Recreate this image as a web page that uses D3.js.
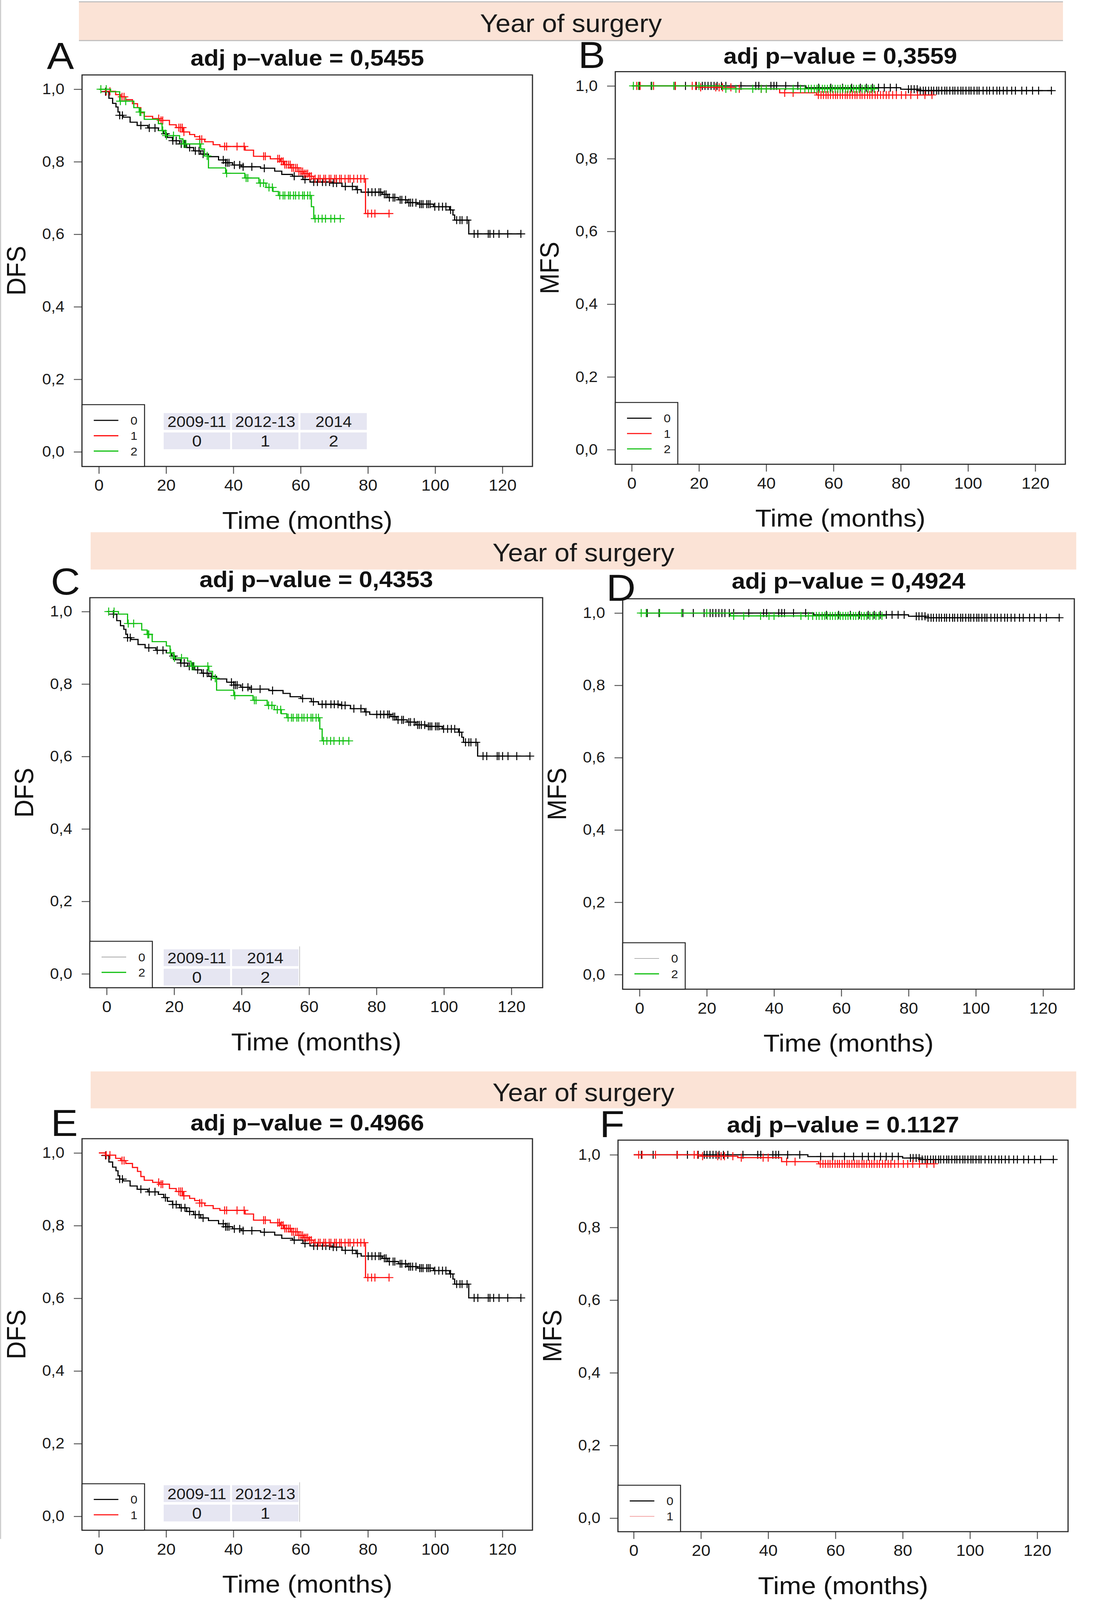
<!DOCTYPE html>
<html>
<head>
<meta charset="utf-8">
<script src="https://cdn.jsdelivr.net/npm/d3@7"></script>
<style>
  html, body { margin: 0; padding: 0; background: #fff; overflow: hidden; }
  svg { display: block; width: 100vw; height: 100vh; font-family: "Liberation Sans", Arial, Helvetica, sans-serif; }
</style>
</head>
<body>
<svg id="chart"></svg>
<script>
/*
    KAPLAN-MEIER PANELS (year of surgery)
*/

// ---- data ----
const stripLabel = "Year of surgery"
const panelLetters = ["A", "B", "C", "D", "E", "F"]
const pValueTitles = ["adj p\u2013value = 0,5455", "adj p\u2013value = 0,3559",
    "adj p\u2013value = 0,4353", "adj p\u2013value = 0,4924",
    "adj p\u2013value = 0.4966", "adj p\u2013value = 0.1127"]
const endpointLabels = ["DFS", "MFS", "DFS", "MFS", "DFS", "MFS"]
const xAxisLabel = "Time (months)"
const groupCodes = ["0", "1", "2"]
const periodLabels = ["2009-11", "2012-13", "2014"]
const xTicks = [0, 20, 40, 60, 80, 100, 120]
const yTicks = [0, 0.2, 0.4, 0.6, 0.8, 1.0]

// DFS, group 0 (2009-11)
const dfs0Times = [0, 2, 3, 4.1, 5.1, 5.7, 6.2, 7.2, 9.3, 11.4, 14.6, 17.7, 19.3, 20.4, 21.9, 24, 26.1, 28.2, 30.3, 32.6,
    35.6, 37.7, 39.8, 42.4, 48.1, 52.3, 54.4, 57.6, 60.7, 62.8, 69.1, 72.3, 76.5, 78, 84.3, 85.9, 89.1, 91.7, 94.8, 99.5,
    104.3, 105.3, 105.8, 110]
const dfs0Surv = [1, 0.993, 0.975, 0.961, 0.951, 0.937, 0.928, 0.923, 0.909, 0.900, 0.893, 0.886, 0.877, 0.867, 0.858, 0.849, 0.839, 0.830, 0.821, 0.814,
    0.805, 0.797, 0.791, 0.786, 0.782, 0.774, 0.765, 0.760, 0.751, 0.744, 0.741, 0.732, 0.723, 0.716, 0.710, 0.701, 0.695, 0.687, 0.683, 0.676,
    0.667, 0.653, 0.639, 0.601]
const dfs0Censored = [2, 6.2, 7, 12.5, 15, 16.7, 19.8, 22, 23, 24.5, 25.6, 27, 28.7, 29.8, 31, 37, 37.7, 38.2, 38.7, 40.3,
    41.9, 42.9, 45.5, 49.2, 58.1, 61.3, 63.9, 65, 66.5, 67.5, 68.6, 69.7, 70.7, 73.3, 75.4, 76.9, 80.1, 81.2, 82.2, 83.3,
    83.8, 84.9, 85.4, 86.4, 87.5, 88, 89.6, 90.1, 91.2, 92.2, 92.7, 93.3, 94.3, 95.4, 95.9, 96.4, 97.5, 98, 98.5, 99.9,
    101.1, 102.2, 103.2, 104.6, 106.4, 107.4, 108, 109.5, 111.6, 112.7, 115.8, 116.3, 117.4, 119, 121.6, 125.5]

// DFS, group 1 (2012-13)
const dfs1Times = [0, 2, 5, 6.5, 8, 10, 11.5, 12.5, 13.5, 16, 18, 21, 23, 25, 27, 28.5, 30, 31.5, 34, 36,
    43.5, 46, 51, 54, 55, 57, 59.5, 61, 62.5, 63.8, 79.3]
const dfs1Surv = [1, 0.994, 0.985, 0.979, 0.971, 0.960, 0.949, 0.935, 0.925, 0.919, 0.914, 0.902, 0.894, 0.882, 0.875, 0.869, 0.862, 0.855, 0.847, 0.842,
    0.832, 0.815, 0.808, 0.801, 0.792, 0.783, 0.773, 0.767, 0.760, 0.753, 0.657]
const dfs1Censored = [2.2, 3.3, 6.9, 7.5, 17.8, 18.5, 19, 23.8, 24.3, 24.8, 25.3, 30, 30.6, 37.4, 38, 41.1, 43.2, 49, 49.5, 53.2,
    53.7, 54.3, 54.8, 55.3, 55.8, 56.4, 56.9, 57.4, 57.9, 58.5, 59, 59.5, 60.1, 60.6, 61.1, 61.6, 62.1, 62.7, 63.2, 64.3,
    65.3, 65.8, 66.9, 67.4, 68.5, 69, 70.1, 70.6, 71.6, 72.1, 73.2, 74.2, 74.7, 75.8, 76.9, 77.9, 78.9, 80, 81.1, 82.1, 86.3]

// DFS, group 2 (2014)
const dfs2Times = [0, 3.5, 6.2, 10.4, 12, 13.5, 17.7, 18.8, 19.8, 24, 25, 30.3, 31.4, 32.6, 37.7, 43.4, 47.6, 49.7, 51.8, 53.4, 63.2, 63.9]
const dfs2Surv = [1, 0.993, 0.967, 0.949, 0.937, 0.917, 0.905, 0.886, 0.872, 0.863, 0.849, 0.835, 0.816, 0.783, 0.768, 0.755, 0.741, 0.729, 0.718, 0.707, 0.676, 0.643]
const dfs2Censored = [0.6, 2.2, 6.4, 8, 12.2, 12.5, 19, 20.1, 22.2, 25.3, 25.9, 30, 32.2, 38, 43.8, 44.3, 48, 49, 50.6, 51.6,
    53.8, 54.8, 55.3, 56.4, 56.9, 57.9, 58.5, 59.5, 60.6, 61.1, 62.1, 62.8, 64.3, 65.3, 66.4, 67.4, 69, 70.1, 71.8]

// MFS, group 0
const mfs0Times = [0, 51.8, 80, 85]
const mfs0Surv = [1, 0.995, 0.991, 0.987]
const mfs0Censored = [2.3, 5.8, 12.9, 16, 19.2, 21, 21.8, 22.7, 23.6, 24.5, 25.4, 26.7, 28, 32.5, 36.9, 37.8, 41.4, 42.3, 43.1, 45.8,
    49.4, 55.6, 59.2, 62.7, 65.4, 68, 69.8, 71.6, 73.4, 75.1, 76.9, 78.7, 82.3, 83.1, 84, 84.9, 85.8, 86.7, 87.4, 88.3,
    89.1, 89.8, 90.7, 91.3, 92.2, 93.1, 93.7, 94.6, 95.5, 96.1, 97, 97.9, 98.5, 99.4, 100.3, 100.9, 101.8, 102.7, 103.3, 104.5,
    105.6, 106.4, 107.5, 108.6, 109.4, 110.5, 111.6, 113, 114.1, 116, 117.4, 119.2, 121, 124.8]

// MFS, group 1
const mfs1Times = [0, 20, 31, 44, 55]
const mfs1Surv = [1, 0.996, 0.992, 0.981, 0.975]
const mfs1Censored = [1.5, 2.5, 6.5, 13, 18, 19, 20.5, 25, 26, 27, 29.5, 32, 38.5, 40, 45.5, 48, 55.5, 56.3, 57, 57.8,
    58.4, 59.1, 59.9, 60.6, 61.2, 62, 62.7, 63.5, 64.1, 64.9, 65.6, 66.4, 67, 67.9, 68.5, 69.3, 70.1, 70.8, 71.5, 72.4,
    73.1, 74, 74.8, 75.7, 76.5, 77.6, 78.7, 80.2, 81.5, 83, 85, 87.2, 89.3]

// MFS, group 2
const mfs2Times = [0, 27]
const mfs2Surv = [1, 0.992]
const mfs2Censored = [0.5, 2, 6, 12.5, 20, 28, 31, 36, 38.5, 40, 48, 50.2, 51.5, 52.6, 53.4, 54.3, 55.1, 55.8, 56.7, 57.4,
    58.2, 59, 59.7, 60.5, 61.3, 62, 62.8, 63.6, 64.3, 65.1, 66, 66.8, 67.6, 68.5, 69.4, 70.3, 71.2, 72.1]

// ---- curves table built from the arrays ----
const curves = {
    dfs: [
        { times: dfs0Times, surv: dfs0Surv, cens: dfs0Censored },
        { times: dfs1Times, surv: dfs1Surv, cens: dfs1Censored },
        { times: dfs2Times, surv: dfs2Surv, cens: dfs2Censored }
    ],
    mfs: [
        { times: mfs0Times, surv: mfs0Surv, cens: mfs0Censored },
        { times: mfs1Times, surv: mfs1Surv, cens: mfs1Censored },
        { times: mfs2Times, surv: mfs2Surv, cens: mfs2Censored }
    ]
}

// ---- styles / layout ----
const groupColors = ["#000000", "#ff1010", "#10c010"]
const width = 2826, height = 4377

const strips = [
    { x0: 202, x1: 2721, y0: 5, y1: 111, textY: 88, border: true },
    { x0: 232, x1: 2755, y0: 1456, y1: 1558, textY: 1536 },
    { x0: 232, x1: 2755, y0: 2931, y1: 3032, textY: 3012 }
]

const panels = [
    { kind: "dfs", groups: [0, 1, 2], box: [210, 205, 1363, 1276], x0: 253, x120: 1286, y1: 244, y0: 1236,
      letter: [120, 188], titleY: 180, table: { x: 419, y: 1130, edge: false } },
    { kind: "mfs", groups: [0, 1, 2], box: [1575, 196, 2727, 1270], x0: 1617, x120: 2650, y1: 235, y0: 1230,
      letter: [1480, 186], titleY: 174 },
    { kind: "dfs", groups: [0, 2], box: [230, 1635, 1389, 2702], x0: 273, x120: 1309, y1: 1673, y0: 2664,
      letter: [130, 1626], titleY: 1606, table: { x: 419, y: 2597, edge: true },
      legendStyle: { 0: { color: "#8a8a8a", width: 1.5 } } },
    { kind: "mfs", groups: [0, 2], box: [1594, 1638, 2750, 2706], x0: 1637, x120: 2670, y1: 1677, y0: 2666,
      letter: [1552, 1643], titleY: 1610,
      legendStyle: { 0: { color: "#8a8a8a", width: 1.5 } } },
    { kind: "dfs", groups: [0, 1], box: [210, 3115, 1363, 4186], x0: 253, x120: 1286, y1: 3154, y0: 4148,
      letter: [130, 3107], titleY: 3093, table: { x: 419, y: 4063, edge: true } },
    { kind: "mfs", groups: [0, 1], box: [1582, 3119, 2734, 4190], x0: 1622, x120: 2655, y1: 3159, y0: 4153,
      letter: [1535, 3111], titleY: 3098,
      legendStyle: { 1: { color: "#f08a8a", width: 1.5 } } }
]

// the svg keeps the 2826x4377 drawing space and is fitted to whatever viewport we get
const svg = d3.select("#chart")
    .attr("viewBox", `0 0 ${width} ${height}`)
    .attr("preserveAspectRatio", "none")

svg.append("rect").attr("width", width).attr("height", height).attr("fill", "#fff")

// faint frame line on the left edge of the original figure
svg.append("line")
    .attr("x1", 1.5).attr("x2", 1.5).attr("y1", 0).attr("y2", 4210)
    .attr("stroke", "#cfcfcf").attr("stroke-width", 3)

// header strips
strips.forEach(s => {
    svg.append("rect")
        .attr("x", s.x0).attr("y", s.y0)
        .attr("width", s.x1 - s.x0).attr("height", s.y1 - s.y0)
        .attr("fill", "#fbe3d6")
    if (s.border) {
        [s.y0, s.y1].forEach(yy => svg.append("line")
            .attr("x1", s.x0).attr("x2", s.x1).attr("y1", yy).attr("y2", yy)
            .attr("stroke", "#bdbdbd").attr("stroke-width", 3))
    }
    svg.append("text")
        .attr("x", (s.x0 + s.x1) / 2).attr("y", s.textY)
        .attr("text-anchor", "middle")
        .attr("font-size", 69)
        .attr("fill", "#1a1a1a")
        .text(stripLabel)
})

// value of the KM step function at time t
const survAt = (c, t) => {
    const i = d3.bisectRight(c.times, t) - 1
    return c.surv[Math.max(0, i)]
}

const commaFormat = d => d3.format(".1f")(d).replace(".", ",")

const drawPanel = (p, idx) => {
    const g = svg.append("g")
    const [bx0, by0, bx1, by1] = p.box
    const cx = (bx0 + bx1) / 2, cy = (by0 + by1) / 2

    const x = d3.scaleLinear().domain([0, 120]).range([p.x0, p.x120])
    const y = d3.scaleLinear().domain([0, 1]).range([p.y0, p.y1])

    // y axis
    g.append("g")
        .attr("transform", `translate(${bx0},0)`)
        .call(d3.axisLeft(y).tickValues(yTicks).tickFormat(commaFormat).tickSize(21).tickPadding(24))
        .call(a => a.select(".domain").remove())
        .call(a => a.selectAll(".tick line").attr("stroke", "#555").attr("stroke-width", 2.5))
        .call(a => a.selectAll(".tick text").attr("font-size", 41).attr("fill", "#1a1a1a")
            .attr("font-family", "'Liberation Sans', Arial, sans-serif"))

    // x axis
    g.append("g")
        .attr("transform", `translate(0,${by1})`)
        .call(d3.axisBottom(x).tickValues(xTicks).tickSize(20).tickPadding(16))
        .call(a => a.select(".domain").remove())
        .call(a => a.selectAll(".tick line").attr("stroke", "#555").attr("stroke-width", 2.5))
        .call(a => a.selectAll(".tick text").attr("font-size", 43).attr("fill", "#1a1a1a")
            .attr("font-family", "'Liberation Sans', Arial, sans-serif"))

    // curves, drawn group by group so later groups sit on top
    const line = d3.line().x(d => x(d[0])).y(d => y(d[1])).curve(d3.curveStepAfter)
    p.groups.forEach(gi => {
        const c = curves[p.kind][gi]
        const tEnd = d3.max(c.cens)
        const pts = c.times.map((t, i) => [t, c.surv[i]])
        pts.push([tEnd, c.surv[c.surv.length - 1]])
        g.append("path")
            .attr("d", line(pts))
            .attr("fill", "none")
            .attr("stroke", groupColors[gi])
            .attr("stroke-width", 3)

        g.append("g")
            .selectAll("path")
            .data(c.cens)
            .join("path")
            .attr("d", t => {
                const px = x(t), py = y(survAt(c, t))
                return `M${px - 11},${py}h22M${px},${py - 11}v22`
            })
            .attr("stroke", groupColors[gi])
            .attr("stroke-width", 2.5)
            .attr("fill", "none")
    })

    // plot frame
    g.append("rect")
        .attr("x", bx0).attr("y", by0)
        .attr("width", bx1 - bx0).attr("height", by1 - by0)
        .attr("fill", "none").attr("stroke", "#2a2a2a").attr("stroke-width", 3)

    // legend box (bottom left, inside the frame)
    const n = p.groups.length
    const lgTop = by1 - 42 * n - 43
    g.append("rect")
        .attr("x", bx0).attr("y", lgTop)
        .attr("width", 160).attr("height", by1 - lgTop)
        .attr("fill", "#fff").attr("stroke", "#222").attr("stroke-width", 2.5)
    p.groups.forEach((gi, i) => {
        const ly = by1 - 42 * (n - i)
        const st = (p.legendStyle && p.legendStyle[gi]) || { color: groupColors[gi], width: 3 }
        g.append("line")
            .attr("x1", bx0 + 30).attr("x2", bx0 + 93)
            .attr("y1", ly).attr("y2", ly)
            .attr("stroke", st.color).attr("stroke-width", st.width)
        g.append("text")
            .attr("x", bx0 + 133).attr("y", ly)
            .attr("dy", "0.36em")
            .attr("text-anchor", "middle")
            .attr("font-size", 32)
            .attr("fill", "#1a1a1a")
            .text(groupCodes[gi])
    })

    // small period/code table
    if (p.table) {
        const t = p.table
        p.groups.forEach((gi, i) => {
            const tx = t.x + i * 175
            ;[periodLabels[gi], groupCodes[gi]].forEach((lab, r) => {
                const ty = t.y + r * 53
                g.append("rect")
                    .attr("x", tx).attr("y", ty)
                    .attr("width", 170).attr("height", 46)
                    .attr("fill", "#e6e6f2")
                g.append("text")
                    .attr("x", tx + 85).attr("y", ty + 23)
                    .attr("dy", "0.36em")
                    .attr("text-anchor", "middle")
                    .attr("font-size", r === 0 ? 42 : 44)
                    .attr("fill", "#1a1a1a")
                    .text(lab)
            })
        })
        if (t.edge) {
            const ex = t.x + n * 175 - 2
            g.append("line")
                .attr("x1", ex).attr("x2", ex)
                .attr("y1", t.y - 8).attr("y2", t.y + 100)
                .attr("stroke", "#c8c8c8").attr("stroke-width", 2)
        }
    }

    // title
    g.append("text")
        .attr("x", cx).attr("y", p.titleY)
        .attr("text-anchor", "middle")
        .attr("font-size", 62)
        .attr("font-weight", "bold")
        .attr("fill", "#111")
        .text(pValueTitles[idx])

    // panel letter
    g.append("text")
        .attr("x", p.letter[0]).attr("y", p.letter[1])
        .attr("font-size", 104)
        .attr("fill", "#111")
        .text(panelLetters[idx])

    // axis titles
    g.append("text")
        .attr("transform", `translate(${bx0 - 169},${cy}) rotate(-90)`)
        .attr("dy", "0.36em")
        .attr("text-anchor", "middle")
        .attr("font-size", 68)
        .attr("fill", "#111")
        .text(endpointLabels[idx])

    g.append("text")
        .attr("x", cx).attr("y", by1 + 171)
        .attr("text-anchor", "middle")
        .attr("font-size", 68)
        .attr("fill", "#111")
        .text(xAxisLabel)
}

panels.forEach(drawPanel)
</script>
</body>
</html>
